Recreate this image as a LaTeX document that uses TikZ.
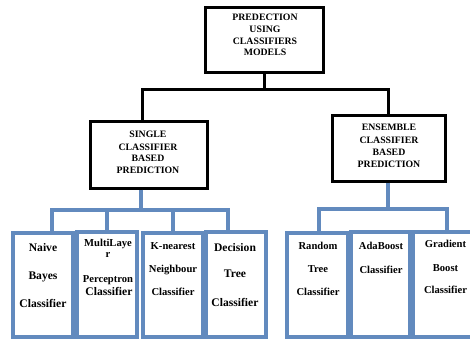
\documentclass[tikz,border=0pt]{standalone}
\usepackage{fontspec}
\setmainfont{Liberation Serif}
\definecolor{boxblue}{RGB}{98,138,190}
\begin{document}
\begin{tikzpicture}[x=1pt,y=-1pt,
  blkbox/.style={draw=black,line width=3pt,fill=white,rectangle,inner sep=0pt},
  bluebox/.style={draw=boxblue,line width=3.5pt,fill=white,rectangle,inner sep=0pt},
  blk/.style={draw=black,line width=3pt},
  blu/.style={draw=boxblue,line width=3.5pt},
  captxt/.style={font=\bfseries\fontsize{9.8}{12}\selectfont,anchor=base,inner sep=0pt},
  lbl/.style={font=\bfseries\fontsize{10.6}{12}\selectfont,anchor=base,inner sep=0pt},
  big/.style={font=\bfseries\fontsize{11.6}{13}\selectfont,anchor=base,inner sep=0pt}]
\clip (0,0) rectangle (470,342);
\fill[white] (0,0) rectangle (470,342);

% connector coordinates
\coordinate (hL) at (142,90);
\coordinate (hR) at (388,90);
\coordinate (bL1) at (52,210);
\coordinate (bL4) at (228,210);
\coordinate (bLs) at (141,210);
\coordinate (bR1) at (319,209);
\coordinate (bR3) at (447,209);
\coordinate (bRs) at (388,209);

% boxes
\node[blkbox,minimum width=118pt,minimum height=65pt] (top) at (264,40.5) {};
\node[blkbox,minimum width=117pt,minimum height=67pt] (single) at (148.5,154.5) {};
\node[blkbox,minimum width=113pt,minimum height=66pt] (ensemble) at (388.5,148) {};

\node[bluebox,minimum width=60pt,minimum height=104pt] (naive) at (43,285) {};
\node[bluebox,minimum width=60pt,minimum height=105pt] (multi) at (107,284.5) {};
\node[bluebox,minimum width=60pt,minimum height=104pt] (knn) at (173,285) {};
\node[bluebox,minimum width=60pt,minimum height=105pt] (dec) at (236,284.5) {};
\node[bluebox,minimum width=61pt,minimum height=104pt] (rnd) at (317.5,285) {};
\node[bluebox,minimum width=59pt,minimum height=105pt] (ada) at (380.5,284.5) {};
\node[bluebox,minimum width=62pt,minimum height=105pt] (grad) at (444,284.5) {};

% black tree
\draw[blk] (top.south) -- (top.south |- hL);
\draw[blk] (single.north -| hL) -- (hL) -- (hR) -- (ensemble.north -| hR);

% blue trees
\draw[blu] (single.south -| bLs) -- (bLs);
\draw[blu] (naive.north -| bL1) -- (bL1) -- (bL4) -- (dec.north -| bL4);
\draw[blu] (bL1 -| multi.north) -- (multi.north);
\draw[blu] (bL1 -| knn.north) -- (knn.north);
\draw[blu] (ensemble.south -| bRs) -- (bRs);
\draw[blu] (rnd.north -| bR1) -- (bR1) -- (bR3) -- (grad.north -| bR3);

% texts
\node[captxt] (t1) at (265,21) {PREDECTION};
\node[captxt] (t2) at (265,33) {USING};
\node[captxt] (t3) at (265,45) {CLASSIFIERS};
\node[captxt] (t4) at (265,56) {MODELS};

\node[captxt] (s1) at (148,137) {SINGLE};
\node[captxt] (s2) at (148,150) {CLASSIFIER};
\node[captxt] (s3) at (148,161) {BASED};
\node[captxt] (s4) at (148,173) {PREDICTION};

\node[captxt] (e1) at (389,130) {ENSEMBLE};
\node[captxt] (e2) at (389,143) {CLASSIFIER};
\node[captxt] (e3) at (389,155) {BASED};
\node[captxt] (e4) at (389,167) {PREDICTION};

\node[big] (n1) at (43,251) {Naive};
\node[big] (n2) at (43,279) {Bayes};
\node[big] (n3) at (43,307) {Classifier};

\node[lbl] (m1) at (108,246) {MultiLaye};
\node[lbl] (m2) at (108,257) {r};
\node[lbl] (m3) at (108,282) {Perceptron};
\node[big] (m4) at (109,295) {Classifier};

\node[lbl] (k1) at (173,249) {K-nearest};
\node[lbl] (k2) at (173,272) {Neighbour};
\node[lbl] (k3) at (173,295) {Classifier};

\node[big] (d1) at (235,251) {Decision};
\node[big] (d2) at (235,277) {Tree};
\node[big] (d3) at (235,306) {Classifier};

\node[lbl] (r1) at (318,249) {Random};
\node[lbl] (r2) at (318,272) {Tree};
\node[lbl] (r3) at (318,295) {Classifier};

\node[lbl] (a1) at (381,249) {AdaBoost};
\node[lbl] (a2) at (381,273) {Classifier};

\node[lbl] (g1) at (445.5,247) {Gradient};
\node[lbl] (g2) at (445.5,271) {Boost};
\node[lbl] (g3) at (445.5,293) {Classifier};
\end{tikzpicture}
\end{document}
